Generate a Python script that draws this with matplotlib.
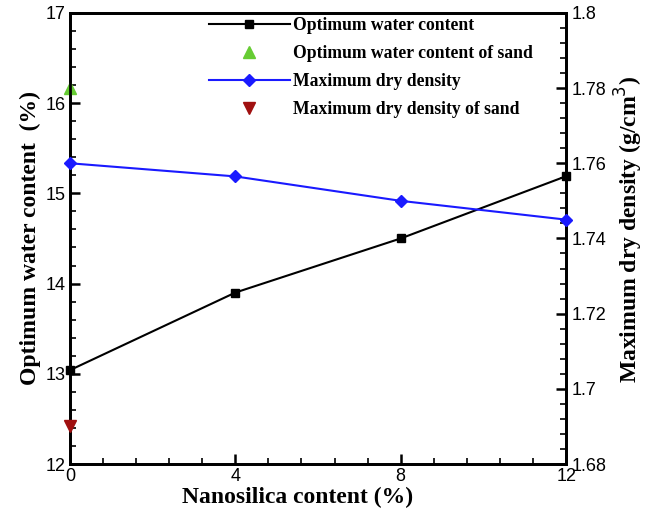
import matplotlib
matplotlib.use("Agg")
import matplotlib.pyplot as plt
from matplotlib.ticker import MultipleLocator, FormatStrFormatter

# data
nano = [0, 4, 8, 12]
water = [13.04, 13.9, 14.5, 15.19]
density = [1.760, 1.7565, 1.750, 1.745]
sand_x = [0]
sand_water = [16.17]
sand_density = [1.690]

plt.rcParams['font.family'] = ['Liberation Sans', 'DejaVu Sans']
serif_bold = {'family': 'Liberation Serif', 'weight': 'bold'}

fig = plt.figure(figsize=(6.53, 5.15), dpi=100)
ax = fig.add_axes([0.107, 0.099, 0.760, 0.876])
ax2 = ax.twinx()

l1, = ax.plot(nano, water, color='black', lw=1.5, marker='s', ms=6,
              clip_on=False, zorder=5, label='Optimum water content')
l2, = ax.plot(sand_x, sand_water, ls='none', marker='^', ms=8, color='#66cc33',
              clip_on=False, zorder=5, label='Optimum water content of sand')
l3, = ax2.plot(nano, density, color='#1a1aff', lw=1.5, marker='D', ms=6,
               clip_on=False, zorder=5, label='Maximum dry density')
l4, = ax2.plot(sand_x, sand_density, ls='none', marker='v', ms=8, color='#a01010',
               clip_on=False, zorder=5, label='Maximum dry density of sand')

ax.set_xlim(0, 12)
ax.set_ylim(12, 17)
ax2.set_ylim(1.68, 1.8)

ax.xaxis.set_major_locator(MultipleLocator(4))
ax.xaxis.set_minor_locator(MultipleLocator(0.8))
ax.yaxis.set_major_locator(MultipleLocator(1))
ax.yaxis.set_minor_locator(MultipleLocator(0.2))
ax2.yaxis.set_major_locator(MultipleLocator(0.02))
ax2.yaxis.set_minor_locator(MultipleLocator(0.004))
ax2.yaxis.set_major_formatter(FormatStrFormatter('%g'))

for a in (ax, ax2):
    for s in a.spines.values():
        s.set_linewidth(2)
    a.tick_params(which='major', direction='in', length=7, width=1.8, labelsize=13)
    a.tick_params(which='minor', direction='in', length=4, width=1.2)
ax.tick_params(axis='x', pad=3)
ax.tick_params(axis='y', pad=3)
ax2.tick_params(axis='y', pad=4)

ax.set_xlabel('Nanosilica content (%)', fontsize=17, labelpad=-1, **serif_bold)
ax.xaxis.set_label_coords(0.458, -0.05)
ax.set_ylabel('Optimum water content  (%)', fontsize=17, labelpad=3, **serif_bold)
ax2.set_ylabel('Maximum dry density (g/cm$^3$)', fontsize=17, labelpad=1, **serif_bold)
ax2.yaxis.set_label_coords(1.095, 0.52)

ax2.legend(handles=[l1, l2, l3, l4], loc='upper left', bbox_to_anchor=(0.248, 1.025),
           frameon=False, handlelength=4.6, labelspacing=0.62, handletextpad=0.15,
           prop={'family': 'Liberation Serif', 'weight': 'bold', 'size': 12.7})

fig.savefig('out.png', dpi=100)
